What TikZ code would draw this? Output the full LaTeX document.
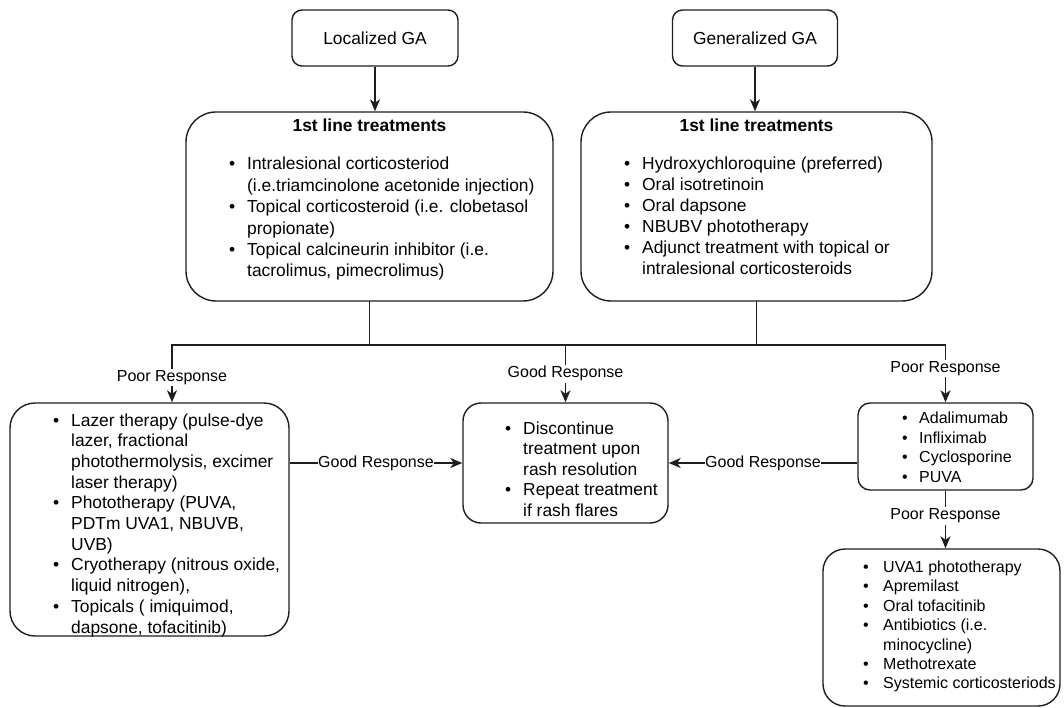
\documentclass[tikz,border=0pt]{standalone}
\usepackage{fontspec}
\setmainfont{Liberation Sans}
\usetikzlibrary{arrows.meta}
\newcommand\bul{\makebox[18pt][l]{\textbullet}}
\newcommand\ind{\hspace*{18pt}}
\newcommand\buls{\makebox[17pt][l]{\textbullet}}
\newcommand\inds{\hspace*{17pt}}
\definecolor{lc}{HTML}{1E1E1E}
\begin{document}
\begin{tikzpicture}[x=1pt,y=-1pt,
  box/.style={draw=lc, line width=1.4pt, rounded corners=#1, inner sep=0, fill=white},
  box/.default=10pt,
  ln/.style={draw=lc, line width=1.5pt},
  arr/.style={-{Stealth[length=12pt,width=10pt,inset=3.5pt]}},
  txt/.style={inner sep=0, anchor=base west},
  big/.style={font=\fontsize{17.4}{21}\selectfont},
  lbl/.style={fill=white, inner xsep=0.5pt, inner ysep=1.5pt, font=\fontsize{16}{19}\selectfont}
]
\useasboundingbox (0,0) rectangle (1064,708);

% boxes
\node[box=10pt, minimum width=166pt, minimum height=56pt, big] (LGA) at (375,38) {Localized GA};
\node[box=10pt, minimum width=165pt, minimum height=56pt, big] (GGA) at (755,38) {Generalized GA};
\node[box=30pt, minimum width=367pt, minimum height=189pt] (L1) at (369.5,206.5) {};
\node[box=30pt, minimum width=351pt, minimum height=189pt] (R1) at (756.5,206.5) {};
\node[box=25pt, minimum width=279pt, minimum height=233pt] (LB) at (149.5,519.5) {};
\node[box=18pt, minimum width=205pt, minimum height=120pt] (MB) at (565.5,463) {};
\node[box=12pt, minimum width=175pt, minimum height=87pt] (RB1) at (945.5,446.5) {};
\node[box=22pt, minimum width=237pt, minimum height=157pt] (RB2) at (941.5,627.5) {};

% titles
\node[inner sep=0, anchor=base, font=\fontsize{17.4}{21}\selectfont\bfseries] (L1h) at (369.5,132) {1st line treatments};
\node[inner sep=0, anchor=base, font=\fontsize{17.4}{21}\selectfont\bfseries] (R1h) at (756.5,132) {1st line treatments};

% contents
\node[txt, font=\fontsize{17.4}{21.4}\selectfont] (L1t) at (229,170) {\begin{tabular}[t]{@{}l@{}}
\bul Intralesional corticosteriod\\
\ind (i.e.triamcinolone acetonide injection)\\
\bul Topical corticosteroid (i.e. clobetasol\\
\ind propionate)\\
\bul Topical calcineurin inhibitor (i.e.\\
\ind tacrolimus, pimecrolimus)
\end{tabular}};

\node[txt, font=\fontsize{17.4}{21}\selectfont] (R1t) at (624,170) {\begin{tabular}[t]{@{}l@{}}
\bul Hydroxychloroquine (preferred)\\
\bul Oral isotretinoin\\
\bul Oral dapsone\\
\bul NBUBV phototherapy\\
\bul Adjunct treatment with topical or\\
\ind intralesional corticosteroids
\end{tabular}};

\node[txt, font=\fontsize{17.4}{20.7}\selectfont] (LBt) at (53,426) {\begin{tabular}[t]{@{}l@{}}
\bul Lazer therapy (pulse-dye\\
\ind lazer, fractional\\
\ind photothermolysis, excimer\\
\ind laser therapy)\\
\bul Phototherapy (PUVA,\\
\ind PDTm UVA1, NBUVB,\\
\ind UVB)\\
\bul Cryotherapy (nitrous oxide,\\
\ind liquid nitrogen),\\
\bul Topicals ( imiquimod,\\
\ind dapsone, tofacitinib)
\end{tabular}};

\node[txt, font=\fontsize{17.4}{20.5}\selectfont] (MBt) at (505,434) {\begin{tabular}[t]{@{}l@{}}
\bul Discontinue\\
\ind treatment upon\\
\ind rash resolution\\
\bul Repeat treatment\\
\ind if rash flares
\end{tabular}};

\node[txt, font=\fontsize{16}{19.7}\selectfont] (RB1t) at (902,423.5) {\begin{tabular}[t]{@{}l@{}}
\buls Adalimumab\\
\buls Infliximab\\
\buls Cyclosporine\\
\buls PUVA
\end{tabular}};

\node[txt, font=\fontsize{16}{19.4}\selectfont] (RB2t) at (863,572.5) {\begin{tabular}[t]{@{}l@{}}
\makebox[20pt][l]{\textbullet}UVA1 phototherapy\\
\makebox[20pt][l]{\textbullet}Apremilast\\
\makebox[20pt][l]{\textbullet}Oral tofacitinib\\
\makebox[20pt][l]{\textbullet}Antibiotics (i.e.\\
\hspace*{20pt}minocycline)\\
\makebox[20pt][l]{\textbullet}Methotrexate\\
\makebox[20pt][l]{\textbullet}Systemic corticosteriods
\end{tabular}};

% connectors
\draw[ln,arr] (LGA.south) -- (LGA.south |- L1.north);
\draw[ln,arr] (GGA.south) -- (GGA.south |- R1.north);
\coordinate (hl) at (172,345);
\coordinate (hr) at (RB1.north |- hl);
\draw[ln, line cap=rect] (L1.south) -- (L1.south |- hl);
\draw[ln, line cap=rect] (R1.south) -- (R1.south |- hl);
\draw[ln, line cap=rect] (hl) -- (hr);
\draw[ln,arr] (hl) -- node[lbl,pos=0.57]{Poor Response} (hl |- LB.north);
\draw[ln,arr] (MB.north |- hl) -- node[lbl,pos=0.5]{Good Response} (MB.north);
\draw[ln,arr] (hr) -- node[lbl,pos=0.41]{Poor Response} (RB1.north);
\draw[ln,arr] (LB.east |- MB.west) -- node[lbl]{Good Response} (MB.west);
\draw[ln,arr] (RB1.west |- MB.east) -- node[lbl]{Good Response} (MB.east);
\draw[ln,arr] (RB1.south) -- node[lbl,pos=0.44]{Poor Response} (RB1.south |- RB2.north);
\end{tikzpicture}
\end{document}
